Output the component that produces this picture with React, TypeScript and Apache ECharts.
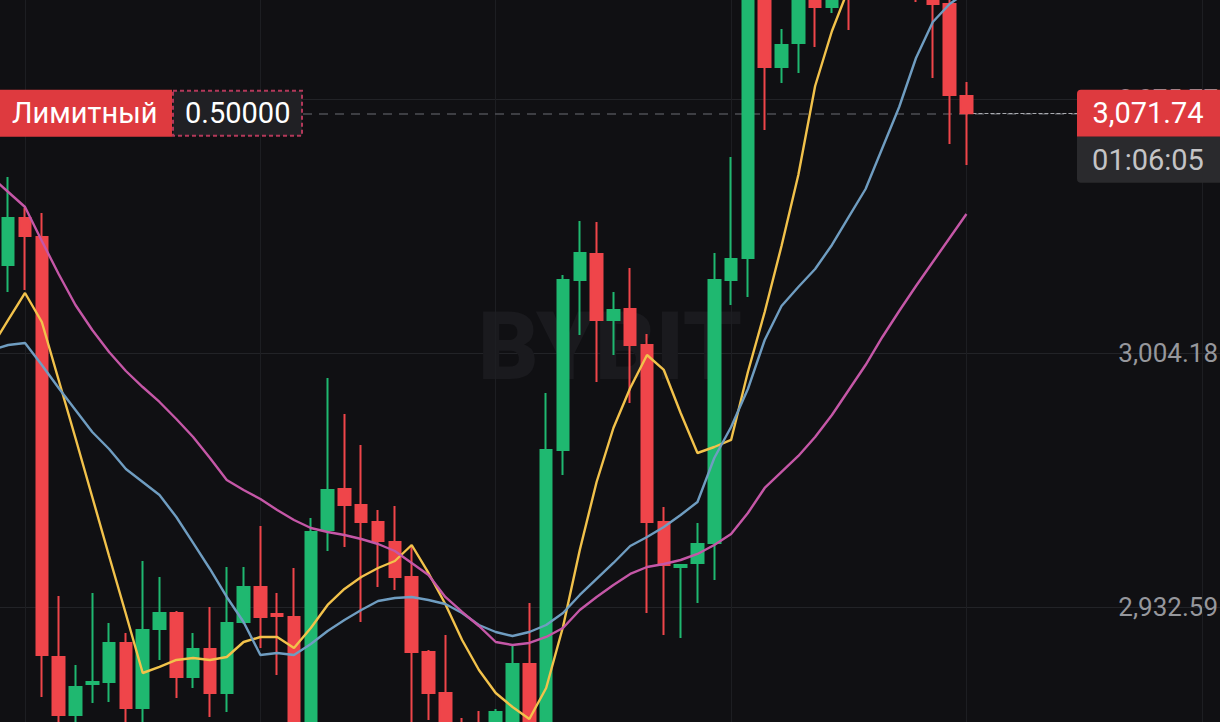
import { useEffect, useRef } from 'react';
import * as echarts from 'echarts';

// Category slots: one lead-in slot (only the moving averages, entering from the left edge),
// 58 visible candles, and empty slots to the right.
const categories = [
  '-1', '0', '1', '2', '3', '4', '5', '6', '7', '8', '9', '10', '11', '12', '13', '14', '15', '16', '17', '18', '19',
  '20', '21', '22', '23', '24', '25', '26', '27', '28', '29', '30', '31', '32', '33', '34', '35', '36', '37', '38', '39',
  '40', '41', '42', '43', '44', '45', '46', '47', '48', '49', '50', '51', '52', '53', '54', '55', '56', '57', '58', '59',
  '60', '61', '62', '63', '64', '65', '66', '67', '68', '69', '70', '71', '72',
];

const opens = [
  3028.98, 3042.23, 3036.87, 2918.5, 2902.15, 2910.89, 2911.45, 2922.44, 2904.12, 2926.39,
  2930.9, 2912.86, 2920.75, 2908.35, 2928.36, 2938.22, 2930.61, 2929.77, 2892.85, 2954.29,
  2965.85, 2961.34, 2956.54, 2950.91, 2941.04, 2919.9, 2908.35, 2895.67, 2893.69, 2891.72,
  2896.51, 2916.52, 2894.54, 2976.84, 3024.75, 3032.08, 3013.48, 3016.58, 3006.43, 2956.54,
  2943.86, 2944.99, 2950.63, 3024.75, 3030.95, 3107.05, 3084.79, 3091.55, 3108.74, 3101.7,
  3112.69, 3105.93, 3114.94, 3110.72, 3109.31, 3106.49, 3102.54, 3076.61,
];
const closes = [
  3042.23, 3037.16, 2919.06, 2902.15, 2910.04, 2911.45, 2922.44, 2904.12, 2926.1, 2930.9,
  2912.86, 2920.75, 2908.35, 2928.08, 2938.22, 2929.77, 2930.05, 2892.28, 2953.73, 2965.56,
  2961.34, 2956.54, 2951.19, 2941.04, 2919.9, 2908.35, 2895.67, 2892.85, 2891.72, 2902.99,
  2916.52, 2895.1, 2976.84, 3024.75, 3032.36, 3013.48, 3016.3, 3006.43, 2956.54, 2944.43,
  2944.43, 2950.34, 3024.75, 3030.67, 3107.9, 3084.79, 3090.99, 3109.31, 3101.7, 3112.13,
  3105.08, 3114.94, 3110.72, 3109.31, 3105.93, 3102.54, 3076.89, 3071.74,
];
const lows = [
  3021.37, 3021.94, 2907.22, 2897.92, 2896.51, 2905.53, 2905.81, 2898.48, 2897.92, 2917.65,
  2906.94, 2909.76, 2901.58, 2902.99, 2927.8, 2921.03, 2913.42, 2888.05, 2889.46, 2948.37,
  2949.5, 2928.36, 2938.22, 2937.38, 2896.51, 2900.74, 2892.28, 2889.46, 2888.05, 2887.21,
  2892.28, 2890.87, 2891.72, 2969.79, 3009.25, 2996.0, 3003.61, 2990.08, 2930.9, 2924.7,
  2923.85, 2933.71, 2940.2, 3017.71, 3019.96, 3067.03, 3080.28, 3083.1, 3090.42, 3100.01,
  3095.21, 3104.8, 3107.9, 3105.93, 3103.11, 3081.69, 3063.08, 3057.17,
];
const highs = [
  3053.79, 3045.05, 3043.64, 2935.69, 2916.24, 2936.53, 2928.08, 2925.26, 2945.55, 2941.04,
  2931.46, 2925.26, 2932.59, 2943.86, 2943.86, 2955.42, 2936.53, 2943.58, 2957.67, 2997.13,
  2986.98, 2978.25, 2959.93, 2961.05, 2949.5, 2920.47, 2924.7, 2901.3, 2903.28, 2903.84,
  2921.88, 2933.71, 2992.9, 3026.16, 3041.38, 3041.1, 3021.37, 3028.13, 3009.53, 2960.77,
  2944.71, 2956.26, 3032.36, 3059.42, 3112.13, 3110.72, 3095.5, 3113.53, 3112.13, 3116.35,
  3117.76, 3119.17, 3120.58, 3117.76, 3116.35, 3110.72, 3104.23, 3080.56,
];

// Moving averages (first value = lead-in slot)
const maYellow = [
  3005.87, 3013.48, 3021.09, 3012.91, 2996.57, 2980.22, 2963.59, 2946.96, 2930.61, 2913.98,
  2915.68, 2917.65, 2918.21, 2917.65, 2918.49, 2922.72, 2924.13, 2924.13, 2921.03, 2926.67,
  2933.15, 2937.66, 2941.04, 2943.58, 2945.55, 2950.06, 2942.17, 2933.43, 2923.29, 2914.83,
  2908.35, 2904.4, 2901.02, 2909.76, 2926.95, 2948.65, 2967.82, 2983.04, 2994.31, 3003.61,
  2999.39, 2987.27, 2975.99, 2977.68, 2979.66, 2998.82, 3015.73, 3034.33, 3054.35, 3079.43,
  3094.93, 3107.05, 3114.94, 3119.17, 3120.58, 3119.17, 3116.35, 3113.53, 3110.72,
];
const maBlue = [
  3005.02, 3006.43, 3007.0, 3000.79, 2994.31, 2988.11, 2981.91, 2977.12, 2971.48, 2967.82,
  2964.15, 2957.95, 2950.63, 2943.3, 2935.41, 2928.36, 2919.06, 2919.62, 2919.06, 2922.16,
  2925.82, 2928.92, 2931.74, 2934.28, 2935.12, 2935.41, 2934.56, 2933.43, 2930.9, 2927.51,
  2925.54, 2924.41, 2925.54, 2927.51, 2930.9, 2935.97, 2940.48, 2944.99, 2949.78, 2952.32,
  2955.14, 2958.52, 2962.18, 2974.58, 2983.32, 2994.03, 3007.84, 3017.42, 3022.78, 3027.85,
  3034.62, 3042.51, 3050.4, 3061.96, 3073.51, 3087.32, 3097.47, 3102.54, 3105.92,
];
const maPink = [
  3053.78, 3049.55, 3045.33, 3035.74, 3026.44, 3017.71, 3010.66, 3004.46, 2999.1, 2994.59,
  2990.37, 2985.57, 2980.5, 2974.58, 2968.38, 2965.56, 2963.03, 2959.93, 2957.11, 2954.85,
  2953.73, 2952.88, 2951.75, 2950.34, 2948.37, 2944.99, 2941.61, 2935.41, 2931.18, 2927.23,
  2922.72, 2921.88, 2922.44, 2924.13, 2926.67, 2931.74, 2935.41, 2938.79, 2941.89, 2943.86,
  2944.71, 2945.83, 2947.53, 2950.06, 2953.16, 2959.08, 2966.13, 2970.64, 2975.15, 2980.5,
  2986.7, 2993.75, 3000.79, 3008.69, 3016.01, 3023.06, 3029.83, 3036.59, 3043.35,
];

const yTicks = [2932.59, 3004.18, 3075.77];
const yMin = 2900.17;
const yMax = 3103.67;
const verticalLineCategories = ['1', '15', '29', '43', '57', '71'];
const lastPrice = 3071.74;
const limitPrice = 3071.74;
const limitLabel = 'Лимитный';
const limitQty = '0.50000';
const countdown = '01:06:05';
const watermark = 'BYBIT';

const BG = '#101013';
const UP = '#1fb870';
const DOWN = '#ef454a';
// the chart canvas starts 17px left of the page so the lead-in slot sits off-screen
const OX = 17;

const fmt = (v: number) =>
  v.toLocaleString('en-US', { minimumFractionDigits: 2, maximumFractionDigits: 2 });

export default function App() {
  const ref = useRef<HTMLDivElement>(null);

  useEffect(() => {
    const el = ref.current;
    if (!el) return;
    const chart = echarts.init(el, undefined, { renderer: 'svg' });

    const trail = categories.length - 1 - opens.length;
    const tail = Array(trail).fill('-');
    const candleData: any[] = [
      '-',
      ...opens.map((o, i) => [o, closes[i], lows[i], highs[i]]),
      ...tail,
    ];
    const lineSeries = (data: number[], color: string) => ({
      type: 'line',
      data: [...data, ...tail],
      symbol: 'none',
      showSymbol: false,
      z: 3,
      silent: true,
      lineStyle: { color, width: 2.4 },
    });

    const lastIdx = categories.indexOf(String(opens.length - 1));
    const endIdx = categories.length - 2;

    chart.setOption({
      animation: false,
      backgroundColor: BG,
      grid: { left: 0, right: 0, top: 0, bottom: 0 },
      xAxis: {
        type: 'category',
        data: categories,
        boundaryGap: true,
        axisLine: { show: false },
        axisTick: { show: false },
        axisLabel: { show: false },
        splitLine: { show: false },
      },
      yAxis: {
        type: 'value',
        position: 'right',
        min: yMin,
        max: yMax,
        axisLine: { show: false },
        axisTick: { show: false, customValues: yTicks },
        axisLabel: {
          inside: true,
          customValues: yTicks,
          margin: 9,
          color: '#96979c',
          fontSize: 26,
          fontFamily: 'Roboto',
          formatter: (v: number) => fmt(v),
        },
        splitLine: { show: true, lineStyle: { color: '#222327', width: 1 } },
      },
      series: [
        {
          type: 'line',
          data: categories.map(() => '-'),
          symbol: 'none',
          z: 1,
          silent: true,
          markLine: {
            z: 1,
            silent: true,
            symbol: ['none', 'none'],
            label: { show: false },
            data: [
              ...verticalLineCategories.map((c) => ({
                xAxis: categories.indexOf(c),
                lineStyle: { color: '#1d1e22', width: 1, type: 'solid' },
              })),
              { yAxis: limitPrice, lineStyle: { color: '#4c4e54', width: 1.5, type: [9, 7] } },
              [
                { coord: [lastIdx, lastPrice], lineStyle: { color: '#a9abb0', width: 1, type: [4, 2] } },
                { coord: [endIdx, lastPrice] },
              ],
            ],
          },
        },
        {
          type: 'candlestick',
          data: candleData,
          barWidth: 12,
          z: 2,
          clip: true,
          itemStyle: {
            color: UP,
            color0: DOWN,
            borderColor: UP,
            borderColor0: DOWN,
            borderWidth: 2,
          },
        },
        lineSeries(maYellow, '#f2c24b'),
        lineSeries(maBlue, '#6f9dc1'),
        lineSeries(maPink, '#c557a7'),
      ],
    });

    const yc = chart.convertToPixel({ yAxisIndex: 0 }, lastPrice) as number;
    const font = 'Roboto';
    chart.setOption({
      graphic: {
        elements: [
          {
            type: 'text',
            x: OX + 610,
            y: 347,
            z: 0,
            silent: true,
            style: {
              text: watermark,
              fontSize: 94,
              fontWeight: 900,
              fontFamily: font,
              fill: '#1a1a1e',
              align: 'center',
              verticalAlign: 'middle',
            },
          },
          {
            type: 'rect',
            z: 100,
            shape: { x: OX - 5, y: yc - 23.5, width: 177, height: 47 },
            style: { fill: '#de3a3f' },
          },
          {
            type: 'text',
            z: 101,
            x: OX + 12,
            y: yc,
            style: { text: limitLabel, fill: '#ffffff', fontSize: 29, fontFamily: font, verticalAlign: 'middle' },
          },
          {
            type: 'rect',
            z: 100,
            shape: { x: OX + 173, y: yc - 22.5, width: 129, height: 45 },
            style: { fill: '#202024', stroke: '#b3385a', lineWidth: 2, lineDash: [4, 3] },
          },
          {
            type: 'text',
            z: 101,
            x: OX + 185,
            y: yc,
            style: { text: limitQty, fill: '#ffffff', fontSize: 29, fontFamily: font, verticalAlign: 'middle' },
          },
          {
            type: 'rect',
            z: 100,
            shape: { x: OX + 1077, y: yc - 23.5, width: 160, height: 47, r: [4, 0, 0, 0] },
            style: { fill: '#de3a3f' },
          },
          {
            type: 'text',
            z: 101,
            x: OX + 1148,
            y: yc,
            style: {
              text: fmt(lastPrice),
              fill: '#ffffff',
              fontSize: 29,
              fontFamily: font,
              align: 'center',
              verticalAlign: 'middle',
            },
          },
          {
            type: 'rect',
            z: 100,
            shape: { x: OX + 1077, y: yc + 23.5, width: 160, height: 46, r: [0, 0, 0, 4] },
            style: { fill: '#2a2a2d' },
          },
          {
            type: 'text',
            z: 101,
            x: OX + 1148,
            y: yc + 46.5,
            style: {
              text: countdown,
              fill: '#c4c4c6',
              fontSize: 29,
              fontFamily: font,
              align: 'center',
              verticalAlign: 'middle',
            },
          },
        ],
      },
    });

    return () => {
      chart.dispose();
    };
  }, []);

  return (
    <div
      style={{ position: 'fixed', left: 0, top: 0, width: 1220, height: 722, overflow: 'hidden', background: BG }}
    >
      <div
        ref={ref}
        style={{ position: 'absolute', left: -OX, top: 0, width: 1244, height: 722 }}
      />
    </div>
  );
}
